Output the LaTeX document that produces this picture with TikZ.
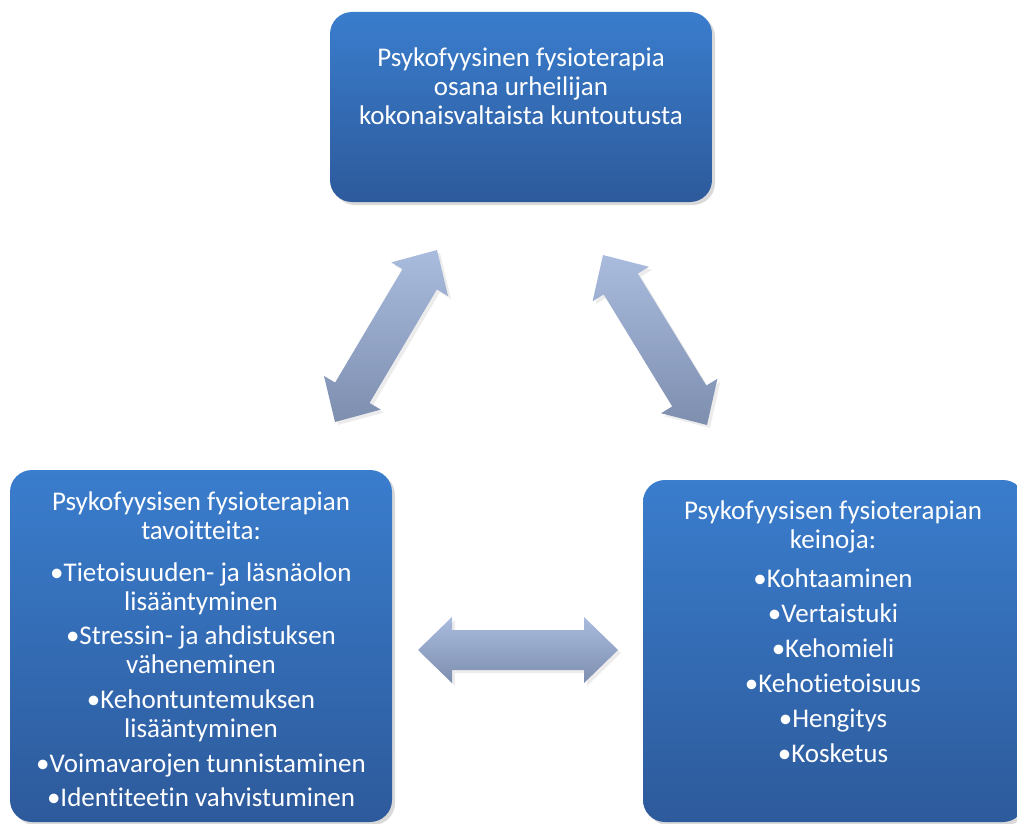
\documentclass[tikz,border=0pt]{standalone}
\usepackage{fontspec}
\setmainfont[Ligatures={CommonOff,ContextualOff}]{Carlito}
\usetikzlibrary{calc,shadows}
\definecolor{boxtop}{HTML}{3A7DCD}
\definecolor{boxbot}{HTML}{2D5A9B}
\definecolor{arrtop}{HTML}{AABCDE}
\definecolor{arrbot}{HTML}{7D8EAF}
\newcommand{\fatarrow}[2]{%
  \coordinate (#1h) at ($(#1)!17pt!(#2)$);
  \coordinate (#2h) at ($(#2)!17pt!(#1)$);
  \path[arrowbody] (#1)
    -- ($(#1h)!16.5pt!90:(#2)$) -- ($(#1h)!10pt!90:(#2)$)
    -- ($(#2h)!10pt!-90:(#1)$) -- ($(#2h)!16.5pt!-90:(#1)$)
    -- (#2)
    -- ($(#2h)!16.5pt!90:(#1)$) -- ($(#2h)!10pt!90:(#1)$)
    -- ($(#1h)!10pt!-90:(#2)$) -- ($(#1h)!16.5pt!-90:(#2)$) -- cycle;}

\begin{document}
\begin{tikzpicture}[x=0.5pt,y=-0.5pt,
      box/.style={rectangle,rounded corners=11pt,minimum width=191pt,
        top color=boxtop,bottom color=boxbot,
        drop shadow={opacity=0.3,shadow xshift=1.5pt,shadow yshift=-1.5pt}},
      boxtext/.style={text=white,align=center,inner sep=0pt,
        font=\fontsize{13.5}{14.5}\selectfont},
      arrowbody/.style={top color=arrtop,bottom color=arrbot,
        drop shadow={opacity=0.15,shadow xshift=1.5pt,shadow yshift=-1.5pt}}]
      \useasboundingbox (0,0) rectangle (1017,824);

      \node[box,minimum height=95pt] (whole) at (521,107) {};
      \node[boxtext] (wholetext) at (521,86)
        { Psykofyysinen fysioterapia\\ osana urheilijan\\ kokonaisvaltaista kuntoutusta };

      \node[box,minimum height=176pt] (goals) at (201,646) {};
      \node[boxtext] (goalstext) at (201,649.5)
        { Psykofyysisen fysioterapian\\ tavoitteita:\\[6.5pt]
          •Tietoisuuden- ja läsnäolon\\ lisääntyminen\\[2.5pt]
          •Stressin- ja ahdistuksen\\ väheneminen\\[3pt]
          •Kehontuntemuksen\\ lisääntyminen\\[3pt]
          •Voimavarojen tunnistaminen\\[2.5pt]
          •Identiteetin vahvistuminen };

      \node[box,minimum height=171pt] (means) at (834,651) {};
      \node[boxtext] (meanstext) at (833,631.5)
        { Psykofyysisen fysioterapian\\ keinoja:\\[5pt]
          •Kohtaaminen\\[3pt] •Vertaistuki\\[3pt] •Kehomieli\\[3pt]
          •Kehotietoisuus\\[3pt] •Hengitys\\[3pt] •Kosketus };

      \coordinate (gw) at (335,422);
      \coordinate (wg) at (437,250);
      \coordinate (wm) at (603,255);
      \coordinate (mw) at (707,425);
      \coordinate (gm) at (418,650);
      \coordinate (mg) at (618,650);

      \fatarrow{gw}{wg}
      \fatarrow{wm}{mw}
      \fatarrow{gm}{mg}
\end{tikzpicture}
\end{document}
